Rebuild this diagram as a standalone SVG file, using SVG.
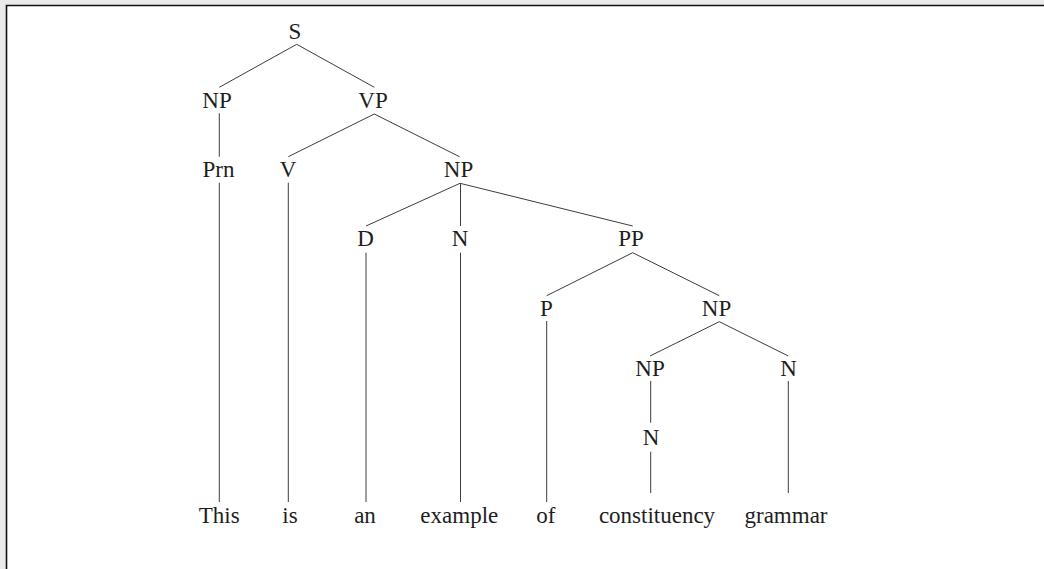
<svg xmlns="http://www.w3.org/2000/svg" width="1044" height="569" viewBox="0 0 1044 569">
<style>
.lbl{font-family:"Liberation Serif","Times New Roman",serif;font-size:23px;fill:#1e1e1e;text-anchor:middle}
.edge{stroke:#3c3c3c;stroke-width:1;fill:none}
</style>
<rect x="0" y="0" width="1044" height="569" fill="#ebebeb"/>
<rect x="6.5" y="5.5" width="1037.5" height="563.5" fill="#ffffff"/>
<path d="M6.5,569 V5.5 H1044" stroke="#111" stroke-width="1.6" fill="none"/>
<g id="connectors" class="edge">
<path d="M296.7,44.3 L219.3,87.3"/>
<path d="M296.7,44.3 L374.3,87.3"/>
<path d="M219.3,113.3 V156.7"/>
<path d="M374.3,114 L288.3,156.7"/>
<path d="M374.3,114 L459.5,156.7"/>
<path d="M219.3,182.7 V502"/>
<path d="M288.3,182.7 V502"/>
<path d="M460,183.3 L366,226"/>
<path d="M460.5,183.3 V226"/>
<path d="M460,183.3 L632.7,226"/>
<path d="M366,252.7 V502"/>
<path d="M460.5,252.7 V502"/>
<path d="M632.7,252.7 L546.7,295.7"/>
<path d="M632.7,252.7 L719.3,295.7"/>
<path d="M546.7,321 V502"/>
<path d="M719.3,321.7 L650,356"/>
<path d="M719.3,321.7 L788.3,356"/>
<path d="M650.7,381 V422.7"/>
<path d="M650.7,451.7 V493"/>
<path d="M788.3,381 V493"/>
</g>
<g id="n_S"><text class="lbl" x="295" y="39">S</text></g>
<g id="n_NP1"><text class="lbl" x="217" y="108">NP</text></g>
<g id="n_VP"><text class="lbl" x="373" y="108">VP</text></g>
<g id="n_Prn"><text class="lbl" x="218.5" y="177">Prn</text></g>
<g id="n_V"><text class="lbl" x="288" y="177">V</text></g>
<g id="n_NP2"><text class="lbl" x="458.5" y="177">NP</text></g>
<g id="n_D"><text class="lbl" x="365.5" y="246">D</text></g>
<g id="n_N1"><text class="lbl" x="460" y="246">N</text></g>
<g id="n_PP"><text class="lbl" x="631" y="246">PP</text></g>
<g id="n_P"><text class="lbl" x="546.5" y="316">P</text></g>
<g id="n_NP3"><text class="lbl" x="716.5" y="316">NP</text></g>
<g id="n_NP4"><text class="lbl" x="650" y="376">NP</text></g>
<g id="n_N2"><text class="lbl" x="788.5" y="376">N</text></g>
<g id="n_N3"><text class="lbl" x="651" y="445">N</text></g>
<g id="w_This"><text class="lbl" x="219.2" y="523">This</text></g>
<g id="w_is"><text class="lbl" x="290" y="523">is</text></g>
<g id="w_an"><text class="lbl" x="365" y="523">an</text></g>
<g id="w_example"><text class="lbl" x="459.3" y="523">example</text></g>
<g id="w_of"><text class="lbl" x="545.8" y="523">of</text></g>
<g id="w_constituency"><text class="lbl" x="657" y="523">constituency</text></g>
<g id="w_grammar"><text class="lbl" x="786" y="523">grammar</text></g>
</svg>
